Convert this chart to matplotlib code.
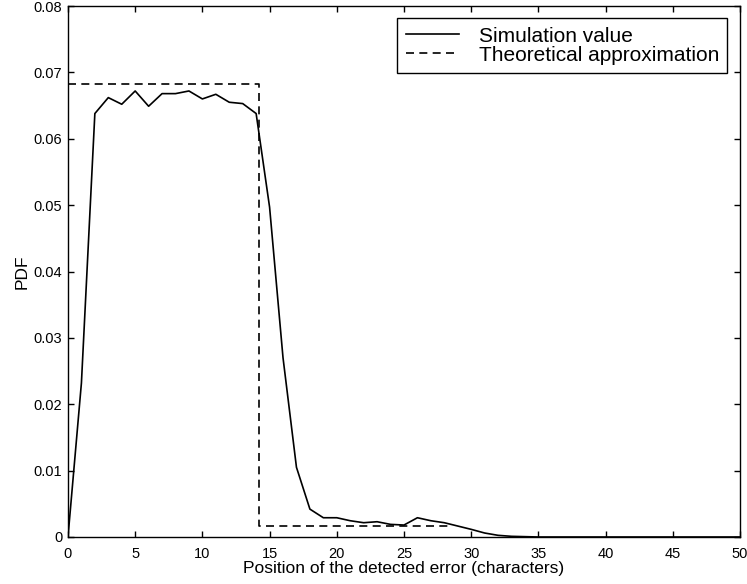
import matplotlib
matplotlib.use("Agg")
import matplotlib.pyplot as plt

plt.rcParams["font.family"] = ["Liberation Sans", "DejaVu Sans"]

# simulated PDF of the detected error position, one value per character
position = list(range(0, 51))
simulated = [
    0.0, 0.0232, 0.0638, 0.0662, 0.0652, 0.0672, 0.0649, 0.0668, 0.0668, 0.0672,
    0.0660, 0.0667, 0.0655, 0.0653, 0.0638, 0.0497, 0.0270, 0.0105, 0.0042, 0.0029,
    0.0029, 0.00245, 0.00215, 0.0023, 0.0019, 0.0018, 0.0029, 0.00245, 0.00215, 0.00165,
    0.00115, 0.0006, 0.00025, 0.0001, 0.00005, 0.0, 0.0, 0.0, 0.0, 0.0,
    0.0, 0.0, 0.0, 0.0, 0.0, 0.0, 0.0, 0.0, 0.0, 0.0, 0.0,
]

# step approximation from theory
theory_x = [0.0, 14.25, 14.25, 28.6]
theory_y = [0.0682, 0.0682, 0.0017, 0.0017]

fig = plt.figure(figsize=(7.47, 5.84), dpi=100)
ax = fig.add_axes([0.091, 0.0805, 0.8996, 0.9092])

ax.plot(position, simulated, color="black", linewidth=1.2, label="Simulation value")
ax.plot(theory_x, theory_y, color="black", linewidth=1.2, dashes=(4.8, 3.2),
        label="Theoretical approximation")

ax.set_xlim(0, 50)
ax.set_ylim(0, 0.08)
ax.set_xticks(range(0, 51, 5))
ax.set_yticks([i / 100 for i in range(9)])
ax.set_yticklabels(["0"] + [f"{i / 100:.2f}" for i in range(1, 9)])
ax.tick_params(direction="in", top=True, right=True, length=4, width=1.0,
               labelsize=10.5)
ax.tick_params(axis="x", pad=7.5)
ax.tick_params(axis="y", pad=4)
for side in ax.spines.values():
    side.set_linewidth(1.0)

ax.set_xlabel("Position of the detected error (characters)", fontsize=12.5, labelpad=0)
ax.set_ylabel("PDF", fontsize=12.5, labelpad=3)

leg = ax.legend(loc="upper right", bbox_to_anchor=(0.981, 0.977), borderaxespad=0,
                fontsize=15, fancybox=False, framealpha=1, edgecolor="black",
                handlelength=2.55, handletextpad=0.95, borderpad=0.4,
                labelspacing=0.0)
leg.get_frame().set_linewidth(1.0)

fig.savefig("out.png", dpi=100)
